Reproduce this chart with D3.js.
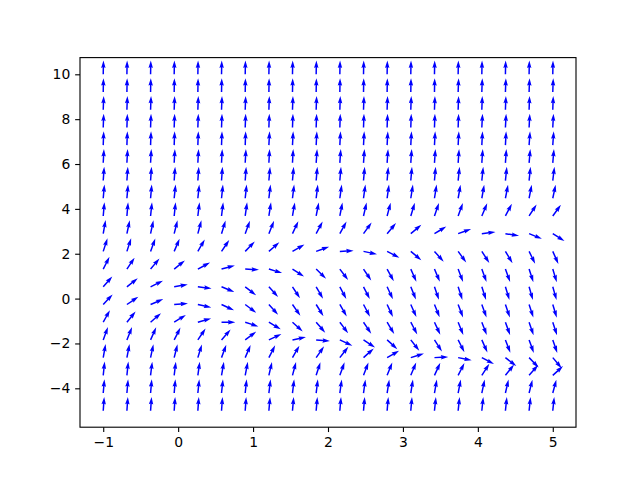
<!DOCTYPE html>
<html>
<head>
<meta charset="utf-8">
<script src="https://cdn.jsdelivr.net/npm/d3@7"></script>
<style>
	body { margin: 0; background: #fff; }
	svg { display: block; }
	text { font-family: "DejaVu Sans", sans-serif; }
</style>
</head>
<body>
<svg id="chart" width="640" height="480"></svg>
<script>

// grid of arrow tails
var xGrid = [-1, -0.684, -0.368, -0.053, 0.263, 0.579, 0.895, 1.211, 1.526, 1.842,
	2.158, 2.474, 2.789, 3.105, 3.421, 3.737, 4.053, 4.368, 4.684, 5];
var yGrid = [-5, -4.211, -3.421, -2.632, -1.842, -1.053, -0.263, 0.526, 1.316, 2.105,
	2.895, 3.684, 4.474, 5.263, 6.053, 6.842, 7.632, 8.421, 9.211, 10];

// arrow direction (degrees, counter-clockwise from +x), one list per row of yGrid
var row00 = [86,86,86,86,86,86,86,85,85,85,85,85,85,85,84,84,84,84,84,84];
var row01 = [85,85,85,85,84,84,84,83,83,83,82,82,81,81,80,79,78,77,76,75];
var row02 = [84,84,83,83,82,80,79,77,75,72,70,69,68,67,65,63,57,51,49,42];
var row03 = [80,79,78,76,73,70,67,63,60,55,52,42,30,17,3,-11,-28,-38,-46,-50];
var row04 = [70,68,66,63,56,49,37,25,12,-5,-25,-33,-42,-52,-57,-63,-66,-69,-70,-71];
var row05 = [61,51,41,32,16,0,-18,-31,-42,-49,-53,-56,-59,-62,-65,-68,-69,-70,-71,-72];
var row06 = [47,34,23,4,-13,-25,-37,-48,-55,-58,-60,-62,-65,-66,-68,-69,-70,-71,-72,-73];
var row07 = [49,38,26,10,-7,-22,-38,-48,-57,-60,-62,-63,-65,-68,-71,-72,-72,-73,-74,-74];
var row08 = [63,56,50,39,28,15,-3,-17,-33,-44,-53,-56,-61,-66,-67,-69,-70,-70,-72,-73];
var row09 = [72,72,70,67,60,56,46,41,30,20,3,-12,-27,-40,-48,-54,-57,-59,-64,-66];
var row10 = [80,78,78,76,75,73,70,68,65,62,61,54,50,40,31,20,7,-9,-22,-32];
var row11 = [85,85,84,84,83,83,82,81,80,79,79,77,75,73,71,70,67,62,57,54];
var row12 = [85,85,85,84,84,84,84,83,83,83,82,82,82,81,81,80,80,79,79,78];
var row13 = [86,86,86,86,86,86,86,85,85,85,85,85,85,85,85,84,84,84,84,83];
var row14 = [87,87,87,87,87,87,87,87,87,86,86,86,86,86,86,86,86,86,85,85];
var row15 = [88,88,88,88,88,88,88,87,87,87,87,87,87,87,87,87,87,87,86,86];
var row16 = [88,88,88,88,88,88,88,88,88,88,88,88,88,88,88,88,87,87,87,87];
var row17 = [88,88,88,88,88,88,88,88,88,88,88,88,88,88,88,88,88,88,88,88];
var row18 = [89,89,89,89,89,89,89,89,89,89,89,89,89,89,89,88,88,88,88,88];
var row19 = [89,89,89,89,89,89,89,89,89,89,89,89,89,89,89,89,89,89,89,89];

var angleRows = [row00,row01,row02,row03,row04,row05,row06,row07,row08,row09,
	row10,row11,row12,row13,row14,row15,row16,row17,row18,row19];

var xTicks = [-1, 0, 1, 2, 3, 4, 5];
var yTicks = [-4, -2, 0, 2, 4, 6, 8, 10];

var svg = d3.select("#chart");

const margin = { top: 57.6, right: 64, bottom: 52.8, left: 80 },
	width = 640 - margin.left - margin.right,
	height = 480 - margin.top - margin.bottom;

var x = d3.scaleLinear([ -1.31, 5.31 ], [ margin.left, margin.left + width ]);
var y = d3.scaleLinear([ -5.734, 10.745 ], [ margin.top + height, margin.top ]);

// flatten grid into arrow records
var arrows = [];
yGrid.forEach( (yv, j) => {
	xGrid.forEach( (xv, i) => {
		arrows.push({ x: xv, y: yv, a: angleRows[j][i] });
	});
});

// quiver-like arrow shape, tail at origin, pointing along +x
const sw = 1.49, len = 13.8;
const hl = 5 * sw, hal = 4.5 * sw, hw = 1.5 * sw, sh = 0.5 * sw;
var shape = [
	[0, -sh], [len - hal, -sh], [len - hl, -hw], [len, 0],
	[len - hl, hw], [len - hal, sh], [0, sh]
];

svg.append("clipPath").attr("id", "plotclip")
	.append("rect")
	.attr("x", margin.left).attr("y", margin.top)
	.attr("width", width).attr("height", height);

svg.append("g")
	.attr("clip-path", "url(#plotclip)")
	.selectAll(".arrow")
	.data(arrows)
	.join("path")
		.attr("class", "arrow")
		.attr("fill", "#0000ff")
		.attr("transform", d => `translate(${x(d.x)},${y(d.y)}) rotate(${-d.a})`)
		.attr("d", d3.line()(shape) + "Z");

// axes
var fmt = d3.format("d");
var xaxis = d3.axisBottom(x).tickValues(xTicks).tickFormat(fmt).tickSize(4.86).tickPadding(4.86);
var yaxis = d3.axisLeft(y).tickValues(yTicks).tickFormat(fmt).tickSize(4.86).tickPadding(4.86);

var gx = svg.append("g")
	.attr("transform", `translate(0, ${margin.top + height})`)
	.call(xaxis);
var gy = svg.append("g")
	.attr("transform", `translate(${margin.left}, 0)`)
	.call(yaxis);

[gx, gy].forEach( g => {
	g.select(".domain").remove();
	g.selectAll(".tick line").attr("stroke", "#000").attr("stroke-width", 1.11);
	g.selectAll(".tick text")
		.attr("fill", "#000")
		.style("font-size", "13.9px")
		.style("font-family", "'DejaVu Sans', sans-serif");
});

// frame
svg.append("rect")
	.attr("x", margin.left).attr("y", margin.top)
	.attr("width", width).attr("height", height)
	.attr("fill", "none")
	.attr("stroke", "#000")
	.attr("stroke-width", 1.11);

</script>
</body>
</html>
